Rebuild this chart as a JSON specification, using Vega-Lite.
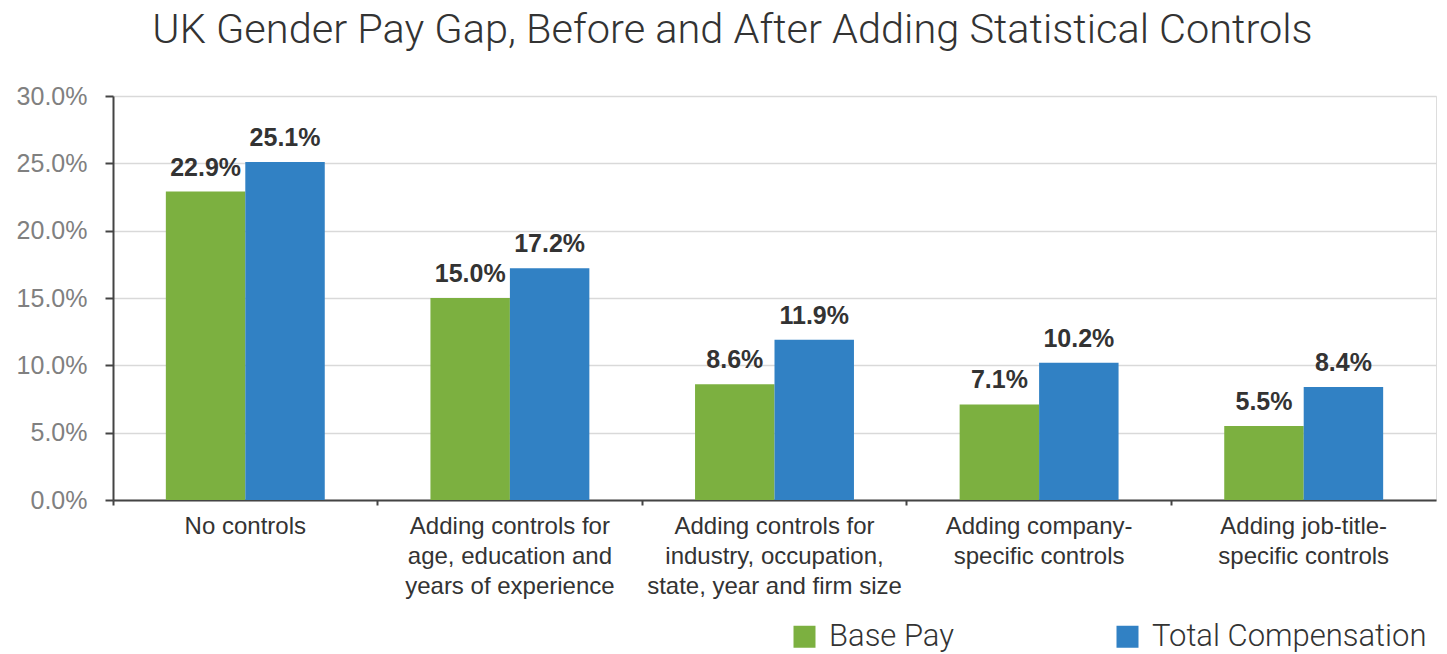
{
  "$schema": "https://vega.github.io/schema/vega-lite/v6.json",
  "autosize": "none",
  "width": 1323,
  "height": 404,
  "padding": {"left": 113, "top": 96, "right": 11, "bottom": 154},
  "background": "white",
  "title": {
    "text": "UK Gender Pay Gap, Before and After Adding Statistical Controls",
    "font": "Roboto",
    "fontWeight": 300,
    "fontSize": 41.5,
    "color": "#333333",
    "anchor": "middle",
    "dx": -42,
    "offset": 33
  },
  "data": {
    "values": [
      {"control": "No controls", "measure": "Base Pay", "gap": 0.229},
      {"control": "No controls", "measure": "Total Compensation", "gap": 0.251},
      {"control": "Adding controls for|age, education and|years of experience", "measure": "Base Pay", "gap": 0.150},
      {"control": "Adding controls for|age, education and|years of experience", "measure": "Total Compensation", "gap": 0.172},
      {"control": "Adding controls for|industry, occupation,|state, year and firm size", "measure": "Base Pay", "gap": 0.086},
      {"control": "Adding controls for|industry, occupation,|state, year and firm size", "measure": "Total Compensation", "gap": 0.119},
      {"control": "Adding company-|specific controls", "measure": "Base Pay", "gap": 0.071},
      {"control": "Adding company-|specific controls", "measure": "Total Compensation", "gap": 0.102},
      {"control": "Adding job-title-|specific controls", "measure": "Base Pay", "gap": 0.055},
      {"control": "Adding job-title-|specific controls", "measure": "Total Compensation", "gap": 0.084}
    ]
  },
  "encoding": {
    "x": {
      "field": "control",
      "type": "nominal",
      "sort": null,
      "scale": {"paddingInner": 0, "paddingOuter": 0},
      "axis": {
        "title": null,
        "labelAngle": 0,
        "labelExpr": "split(datum.label, '|')",
        "labelFont": "Liberation Sans",
        "labelFontSize": 24,
        "labelColor": "#333333",
        "labelLineHeight": 30,
        "labelPadding": 9,
        "labelBaseline": "top",
        "labelLimit": 400,
        "domainColor": "#444444",
        "domainWidth": 2,
        "tickColor": "#444444",
        "tickWidth": 2,
        "tickSize": 5,
        "bandPosition": 0,
        "grid": false
      }
    },
    "xOffset": {
      "field": "measure",
      "type": "nominal",
      "scale": {"paddingInner": 0, "paddingOuter": 0.665}
    },
    "y": {
      "field": "gap",
      "type": "quantitative",
      "scale": {"domain": [0, 0.3], "nice": false},
      "axis": {
        "title": null,
        "values": [0, 0.05, 0.1, 0.15, 0.2, 0.25, 0.3],
        "format": ".1%",
        "labelFont": "Liberation Sans",
        "labelFontSize": 25,
        "labelColor": "#808080",
        "labelPadding": 18,
        "domainColor": "#444444",
        "domainWidth": 2,
        "tickColor": "#444444",
        "tickWidth": 2,
        "tickSize": 8,
        "gridColor": "#d9d9d9",
        "gridWidth": 1.5
      }
    }
  },
  "layer": [
    {
      "mark": {"type": "bar"},
      "encoding": {
        "color": {
          "field": "measure",
          "type": "nominal",
          "scale": {"domain": ["Base Pay", "Total Compensation"], "range": ["#7cb040", "#3181c4"]},
          "legend": {
            "title": null,
            "orient": "none",
            "legendX": 676,
            "legendY": 525,
            "direction": "horizontal",
            "columns": 2,
            "columnPadding": 158,
            "symbolType": "square",
            "symbolSize": 484,
            "symbolStrokeWidth": 0,
            "labelFont": "Roboto",
            "labelFontWeight": 300,
            "labelFontSize": 31,
            "labelColor": "#333333",
            "labelOffset": 9,
            "labelLimit": 400
          }
        }
      }
    },
    {
      "mark": {"type": "text", "baseline": "bottom", "dy": -11, "font": "Liberation Sans", "fontWeight": "bold", "fontSize": 25, "color": "#333333"},
      "encoding": {
        "text": {"field": "gap", "type": "quantitative", "format": ".1%"},
        "detail": {"field": "measure"}
      }
    }
  ]
}
